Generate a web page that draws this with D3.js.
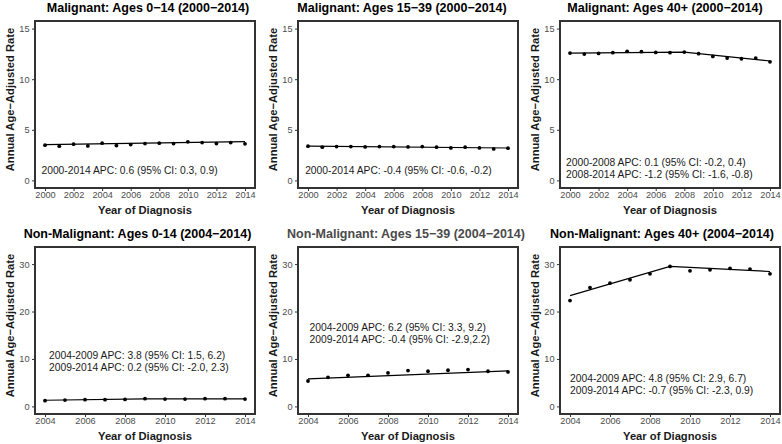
<!DOCTYPE html>
<html>
<head>
<meta charset="utf-8">
<script src="https://cdn.jsdelivr.net/npm/d3@7/dist/d3.min.js"></script>
<style>
  html, body { margin: 0; padding: 0; background: #fff; }
  svg { display: block; font-family: "Liberation Sans", Arial, sans-serif; }
</style>
</head>
<body>
<svg id="chart" width="782" height="444"></svg>
<script>
// ---------------- DATA ----------------
const titles = [
  "Malignant: Ages 0\u221214 (2000\u22122014)",
  "Malignant: Ages 15\u221239 (2000\u22122014)",
  "Malignant: Ages 40+ (2000\u22122014)",
  "Non-Malignant: Ages 0-14 (2004\u22122014)",
  "Non-Malignant: Ages 15\u221239 (2004\u22122014)",
  "Non-Malignant: Ages 40+ (2004\u22122014)"
];
const yearsMalig = [2000, 2001, 2002, 2003, 2004, 2005, 2006, 2007, 2008, 2009, 2010, 2011, 2012, 2013, 2014];
const yearsNonMalig = [2004, 2005, 2006, 2007, 2008, 2009, 2010, 2011, 2012, 2013, 2014];

const malig014   = [3.48, 3.38, 3.58, 3.41, 3.68, 3.44, 3.54, 3.64, 3.68, 3.64, 3.81, 3.74, 3.64, 3.74, 3.61];
const malig1539  = [3.38, 3.28, 3.34, 3.34, 3.31, 3.34, 3.34, 3.31, 3.34, 3.28, 3.21, 3.28, 3.21, 3.11, 3.18];
const malig40    = [12.58, 12.48, 12.55, 12.62, 12.75, 12.72, 12.65, 12.62, 12.68, 12.52, 12.25, 12.09, 12.02, 12.09, 11.72];
const nonMalig014  = [1.20, 1.34, 1.41, 1.41, 1.48, 1.62, 1.55, 1.55, 1.62, 1.62, 1.55];
const nonMalig1539 = [5.36, 6.14, 6.56, 6.56, 7.06, 7.55, 7.41, 7.62, 7.76, 7.41, 7.27];
const nonMalig40   = [22.3, 25.05, 25.97, 26.68, 27.95, 29.5, 28.58, 28.8, 29.08, 28.94, 27.95];

// fitted joinpoint segments: [year, fitted rate]
const fitMalig014     = [[2000, 3.54], [2014, 3.84]];
const fitMalig1539    = [[2000, 3.38], [2014, 3.20]];
const fitMalig40      = [[2000, 12.58], [2008, 12.68], [2014, 11.80]];
const fitNonMalig014  = [[2004, 1.30], [2009, 1.57], [2014, 1.60]];
const fitNonMalig1539 = [[2004, 5.80], [2014, 7.50]];
const fitNonMalig40   = [[2004, 23.36], [2009, 29.5], [2014, 28.44]];

// annotations: lines of text with anchor [year, rate] of first line
const noteMalig014 = ["2000-2014 APC: 0.6 (95% CI: 0.3, 0.9)"];
const noteMalig1539 = ["2000-2014 APC: -0.4 (95% CI: -0.6, -0.2)"];
const noteMalig40 = ["2000-2008 APC: 0.1 (95% CI: -0.2, 0.4)", "2008-2014 APC: -1.2 (95% CI: -1.6, -0.8)"];
const noteNonMalig014 = ["2004-2009 APC: 3.8 (95% CI: 1.5, 6.2)", "2009-2014 APC: 0.2 (95% CI: -2.0, 2.3)"];
const noteNonMalig1539 = ["2004-2009 APC: 6.2 (95% CI: 3.3, 9.2)", "2009-2014 APC: -0.4 (95% CI: -2.9,2.2)"];
const noteNonMalig40 = ["2004-2009 APC: 4.8 (95% CI: 2.9, 6.7)", "2009-2014 APC: -0.7 (95% CI: -2.3, 0.9)"];
const noteAnchors = [[1999.75, 1.0], [1999.8, 1.0], [1999.72, 1.82], [2004.2, 10.8], [2004.08, 16.7], [2004.0, 6.0]];

const yLimMalig = [0, 15];
const yLimNonMalig = [0, 32];
const yTicksMalig = [0, 5, 10, 15];
const yTicksNonMalig = [0, 10, 20, 30];
const xTicksMalig = [2000, 2002, 2004, 2006, 2008, 2010, 2012, 2014];
const xTicksNonMalig = [2004, 2006, 2008, 2010, 2012, 2014];

const xTitle = "Year of Diagnosis";
const yTitle = "Annual Age\u2212Adjusted Rate";

// ---------------- LAYOUT ----------------
const colLeft = [35, 298, 560];
const rowTop = [21, 247];
const boxW = 220, boxH = 167;
const titleDx = [3, -6, -5, -7.5, -2, -8];
const titleColor = ["#000", "#000", "#000", "#000", "#4a4a4a", "#000"];

const panels = [
  { years: yearsMalig, vals: malig014, fit: fitMalig014, note: noteMalig014, yLim: yLimMalig, yTicks: yTicksMalig, xTicks: xTicksMalig },
  { years: yearsMalig, vals: malig1539, fit: fitMalig1539, note: noteMalig1539, yLim: yLimMalig, yTicks: yTicksMalig, xTicks: xTicksMalig },
  { years: yearsMalig, vals: malig40, fit: fitMalig40, note: noteMalig40, yLim: yLimMalig, yTicks: yTicksMalig, xTicks: xTicksMalig },
  { years: yearsNonMalig, vals: nonMalig014, fit: fitNonMalig014, note: noteNonMalig014, yLim: yLimNonMalig, yTicks: yTicksNonMalig, xTicks: xTicksNonMalig },
  { years: yearsNonMalig, vals: nonMalig1539, fit: fitNonMalig1539, note: noteNonMalig1539, yLim: yLimNonMalig, yTicks: yTicksNonMalig, xTicks: xTicksNonMalig },
  { years: yearsNonMalig, vals: nonMalig40, fit: fitNonMalig40, note: noteNonMalig40, yLim: yLimNonMalig, yTicks: yTicksNonMalig, xTicks: xTicksNonMalig }
];

const svg = d3.select("#chart");

function expand(lim) {
  const d = (lim[1] - lim[0]) * 0.05;
  return [lim[0] - d, lim[1] + d];
}

panels.forEach((p, i) => {
  const col = i % 3, row = Math.floor(i / 3);
  const left = colLeft[col], top = rowTop[row];
  const g = svg.append("g").attr("transform", `translate(${left},${top})`);

  const xDom = expand([p.years[0], p.years[p.years.length - 1]]);
  const x = d3.scaleLinear().domain(xDom).range([0, boxW]);
  const y = d3.scaleLinear().domain(expand(p.yLim)).range([boxH, 0]);

  // title
  g.append("text")
    .attr("x", boxW / 2 + titleDx[i])
    .attr("y", -9)
    .attr("text-anchor", "middle")
    .attr("font-size", 12.5)
    .attr("font-weight", "bold")
    .attr("fill", titleColor[i])
    .text(titles[i]);

  // axes
  const xAxis = g.append("g").attr("transform", `translate(0,${boxH})`)
    .call(d3.axisBottom(x).tickValues(p.xTicks).tickFormat(d3.format("d")).tickSize(3).tickPadding(0.5));
  const yAxis = g.append("g")
    .call(d3.axisLeft(y).tickValues(p.yTicks).tickFormat(d3.format("d")).tickSize(3).tickPadding(2.5));
  [xAxis, yAxis].forEach(a => {
    a.select(".domain").remove();
    a.selectAll(".tick line").attr("stroke", "#333").attr("stroke-width", 1);
    a.selectAll(".tick text").attr("fill", "#4d4d4d").attr("font-size", 9.2)
      .attr("font-family", "'Liberation Sans', Arial, sans-serif");
  });

  // axis titles
  g.append("text")
    .attr("x", boxW / 2)
    .attr("y", boxH + 26)
    .attr("text-anchor", "middle")
    .attr("font-size", 11.2)
    .attr("font-weight", "bold")
    .attr("fill", "#1a1a1a")
    .text(xTitle);
  g.append("text")
    .attr("transform", `translate(${-21},${boxH / 2 - 5}) rotate(-90)`)
    .attr("text-anchor", "middle")
    .attr("font-size", 11.2)
    .attr("font-weight", "bold")
    .attr("fill", "#1a1a1a")
    .text(yTitle);

  // fitted line
  g.append("path")
    .datum(p.fit)
    .attr("fill", "none")
    .attr("stroke", "#000")
    .attr("stroke-width", 1.2)
    .attr("d", d3.line().x(d => x(d[0])).y(d => y(d[1])));

  // observed points
  g.selectAll("circle.pt")
    .data(p.years.map((yr, k) => [yr, p.vals[k]]))
    .join("circle")
    .attr("class", "pt")
    .attr("cx", d => x(d[0]))
    .attr("cy", d => y(d[1]))
    .attr("r", 1.9)
    .attr("fill", "#000");

  // annotation
  const a = noteAnchors[i];
  const t = g.append("text")
    .attr("x", x(a[0]))
    .attr("y", y(a[1]))
    .attr("font-size", 10.3)
    .attr("fill", "#1a1a1a");
  p.note.forEach((line, k) => {
    t.append("tspan")
      .attr("x", x(a[0]))
      .attr("dy", k === 0 ? "0.35em" : 12.3)
      .text(line);
  });

  // panel border
  g.append("rect")
    .attr("x", 0).attr("y", 0)
    .attr("width", boxW).attr("height", boxH)
    .attr("fill", "none")
    .attr("stroke", "#333")
    .attr("stroke-width", 2);
});
</script>
</body>
</html>
